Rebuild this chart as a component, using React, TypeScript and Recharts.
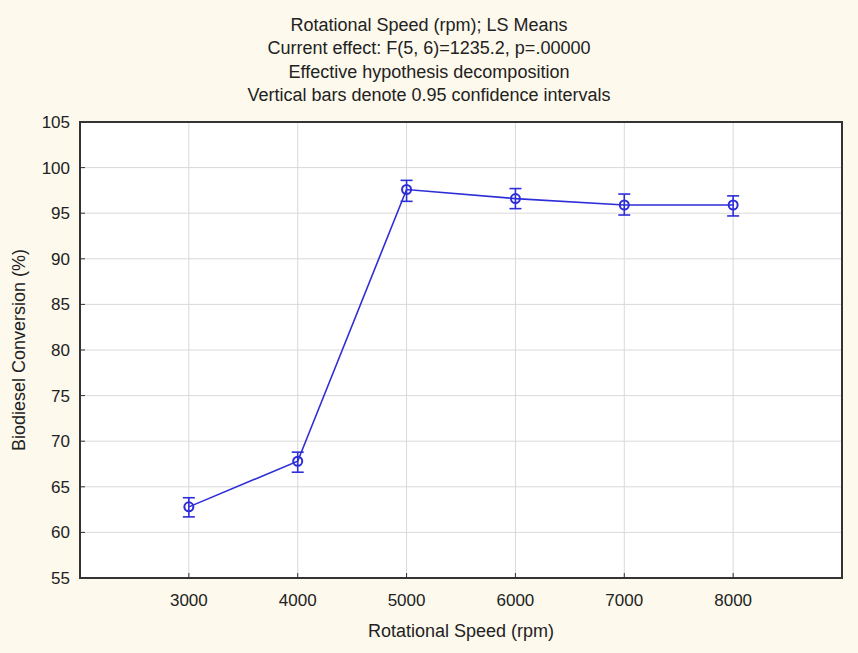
import {
  LineChart,
  Line,
  XAxis,
  YAxis,
  CartesianGrid,
  ErrorBar,
  ReferenceArea,
} from "recharts";

// LS means with 0.95 confidence limits
const rpmLevels = [3000, 4000, 5000, 6000, 7000, 8000];
const meanConversion = [62.8, 67.8, 97.6, 96.6, 95.9, 95.9];
const lowerLimit = [61.7, 66.6, 96.3, 95.5, 94.8, 94.7];
const upperLimit = [63.8, 68.8, 98.6, 97.7, 97.1, 96.9];
const yTicks = [55, 60, 65, 70, 75, 80, 85, 90, 95, 100, 105];

const titleLines = [
  "Rotational Speed (rpm); LS Means",
  "Current effect: F(5, 6)=1235.2, p=.00000",
  "Effective hypothesis decomposition",
  "Vertical bars denote 0.95 confidence intervals",
];

const data = rpmLevels.map((rpm, i) => ({
  rpm,
  mean: meanConversion[i],
  ci: [meanConversion[i] - lowerLimit[i], upperLimit[i] - meanConversion[i]],
}));

const FONT = "'Liberation Sans', Arial, sans-serif";
const BLUE = "#2e2ed8";
const TEXT = "#222";
const FRAME = "#333";

function BottomTick({ x, y, payload }: any) {
  return (
    <g>
      <line x1={x} y1={y} x2={x} y2={y - 5} stroke={FRAME} strokeWidth={1} />
      <text x={x} y={y + 28} textAnchor="middle" fill={TEXT} fontSize={17} fontFamily={FONT}>
        {payload.value}
      </text>
    </g>
  );
}

function LeftTick({ x, y, payload }: any) {
  return (
    <g>
      <line x1={x} y1={y} x2={x + 5} y2={y} stroke={FRAME} strokeWidth={1} />
      <text x={x - 10} y={y + 6} textAnchor="end" fill={TEXT} fontSize={17} fontFamily={FONT}>
        {payload.value}
      </text>
    </g>
  );
}

function RightTick({ x, y }: any) {
  return <line x1={x} y1={y} x2={x - 5} y2={y} stroke={FRAME} strokeWidth={1} />;
}

export default function App() {
  return (
    <div
      style={{
        position: "absolute",
        left: 0,
        top: 0,
        width: 858,
        height: 653,
        background: "#fdf9ec",
        fontFamily: FONT,
        color: TEXT,
      }}
    >
      <div
        style={{
          position: "absolute",
          top: 14,
          left: 0,
          width: 858,
          textAlign: "center",
          fontSize: 18,
          lineHeight: "23.3px",
        }}
      >
        {titleLines.map((t) => (
          <div key={t}>{t}</div>
        ))}
      </div>
      <LineChart
        width={858}
        height={653}
        data={data}
        margin={{ top: 122, right: 16, bottom: 0, left: 0 }}
      >
        <CartesianGrid stroke="#d9d9d9" strokeWidth={1} fill="#ffffff" />
        <XAxis
          dataKey="rpm"
          type="number"
          domain={[2000, 9000]}
          ticks={rpmLevels}
          allowDataOverflow
          height={75}
          axisLine={false}
          tickLine={false}
          tickSize={0}
          tickMargin={0}
          tick={<BottomTick />}
        />
        <YAxis
          domain={[55, 105]}
          ticks={yTicks}
          width={80}
          axisLine={false}
          tickLine={false}
          tickSize={0}
          tickMargin={0}
          tick={<LeftTick />}
        />
        <YAxis
          yAxisId="right"
          orientation="right"
          domain={[55, 105]}
          ticks={yTicks}
          width={0}
          axisLine={false}
          tickLine={false}
          tickSize={0}
          tickMargin={0}
          tick={<RightTick />}
        />
        <Line
          dataKey="mean"
          stroke={BLUE}
          strokeWidth={1.6}
          dot={{ r: 4.5, stroke: BLUE, strokeWidth: 2, fill: "none" }}
          activeDot={false}
          isAnimationActive={false}
        >
          <ErrorBar dataKey="ci" direction="y" width={6} stroke={BLUE} strokeWidth={1.6} />
        </Line>
        <ReferenceArea
          x1={2000}
          x2={9000}
          y1={55}
          y2={105}
          fill="none"
          fillOpacity={0}
          stroke={FRAME}
          strokeWidth={2}
        />
      </LineChart>
      <div
        style={{
          position: "absolute",
          left: 461,
          top: 631,
          transform: "translate(-50%, -50%)",
          fontSize: 18,
          whiteSpace: "nowrap",
        }}
      >
        Rotational Speed (rpm)
      </div>
      <div
        style={{
          position: "absolute",
          left: 19,
          top: 350,
          transform: "translate(-50%, -50%) rotate(-90deg)",
          fontSize: 18,
          whiteSpace: "nowrap",
        }}
      >
        Biodiesel Conversion (%)
      </div>
    </div>
  );
}
